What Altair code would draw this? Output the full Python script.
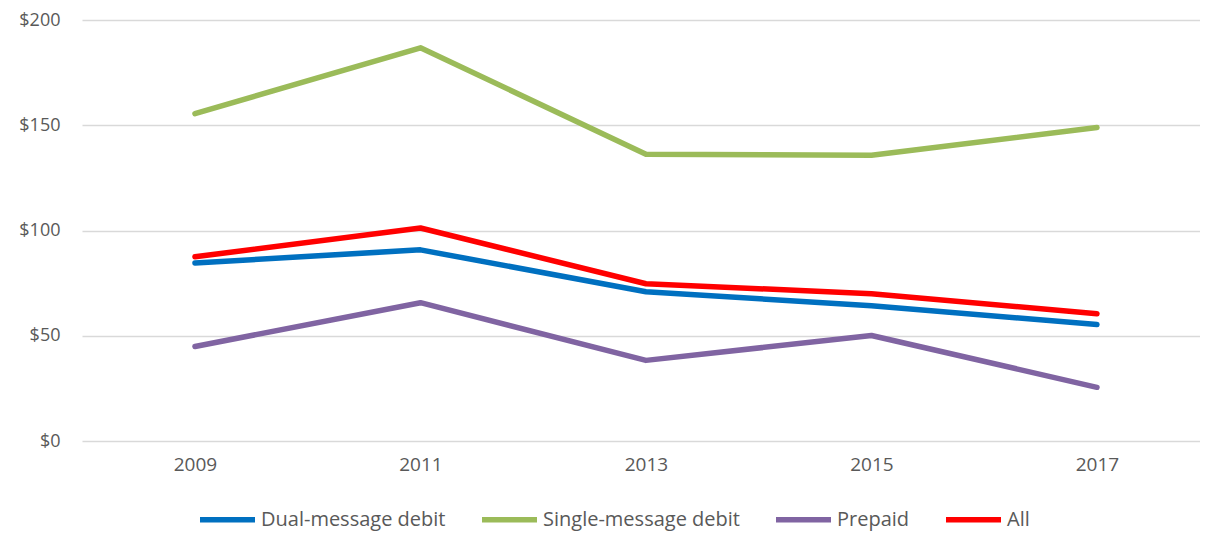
import altair as alt
import pandas as pd

years = ["2009", "2011", "2013", "2015", "2017"]
series_names = ["Dual-message debit", "Single-message debit", "Prepaid", "All"]
dual = [84.6, 90.8, 70.9, 64.3, 55.3]
single = [155.5, 186.8, 136.2, 135.7, 148.9]
prepaid = [44.9, 65.7, 38.3, 50.1, 25.5]
all_ = [87.5, 101.2, 74.7, 70.0, 60.5]
colors = ["#0070C0", "#9BBB59", "#8064A2", "#FF0000"]

rows = []
for name, vals in zip(series_names, [dual, single, prepaid, all_]):
    for y, v in zip(years, vals):
        rows.append({"year": y, "value": v, "series": name})
df = pd.DataFrame(rows)

font = "Open Sans"
chart = alt.Chart(df).mark_line(strokeWidth=5.5, strokeCap="round", strokeJoin="round").encode(
    x=alt.X("year:N", sort=years, title=None,
            scale=alt.Scale(type="point", padding=0.479, align=0.523),
            axis=alt.Axis(labelAngle=0, domain=False, ticks=False, grid=False,
                          labelFontSize=19, labelColor="#595959", labelFont=font, labelPadding=14)),
    y=alt.Y("value:Q", title=None,
            scale=alt.Scale(domain=[0, 200], nice=False),
            axis=alt.Axis(values=[0, 50, 100, 150, 200], format="$,.0f", domain=False, ticks=False,
                          gridColor="#D9D9D9", gridWidth=1.5,
                          labelFontSize=18, labelColor="#595959", labelFont=font, labelPadding=22)),
    color=alt.Color("series:N", sort=series_names,
                    scale=alt.Scale(domain=series_names, range=colors),
                    legend=alt.Legend(title=None, orient="none", direction="horizontal",
                                      legendX=115, legendY=469,
                                      symbolType="stroke", symbolSize=3025, symbolStrokeWidth=5.5,
                                      labelFont=font, labelFontSize=20, labelColor="#595959",
                                      labelLimit=0, labelOffset=3, columnPadding=25)),
).properties(
    width=1118, height=421,
    autosize=alt.AutoSizeParams(type="none"),
    padding={"left": 74, "top": 12, "right": 0, "bottom": 90},
).configure_view(stroke=None)

chart.save("out.html", embed_options={"renderer": "svg", "actions": False})
